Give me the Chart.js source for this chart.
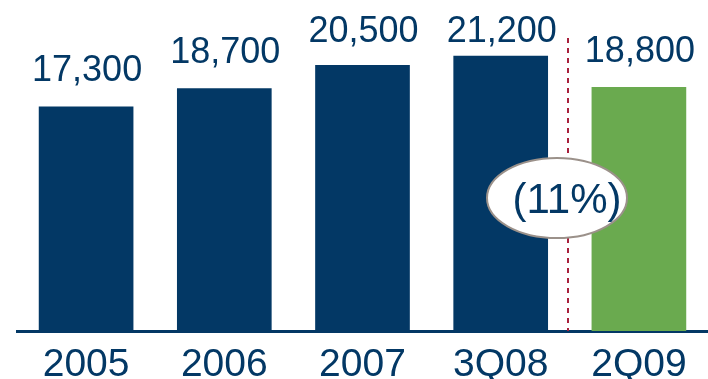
<!DOCTYPE html>
<html>
<head>
<meta charset="utf-8">
<script src="https://cdn.jsdelivr.net/npm/chart.js@4"></script>
<style>
  html, body { margin: 0; padding: 0; background: #ffffff; }
  #wrap { width: 708px; height: 379px; position: relative; }
</style>
</head>
<body>
<div id="wrap"><canvas id="headcount-chart"></canvas></div>
<script>
// Headcount by period
const periods = ['2005', '2006', '2007', '3Q08', '2Q09'];
const headcount = [17300, 18700, 20500, 21200, 18800];
const changeLabel = '(11%)';

const NAVY = '#033865';
const GREEN = '#6aaa4f';
const DIVIDER = '#a8203c';
const FONT = '"Liberation Sans", Arial, Helvetica, sans-serif';

const barColors = periods.map((p, i) => i === periods.length - 1 ? GREEN : NAVY);

// Value labels above each bar (kept below the top edge for the tall ones)
const valueLabels = {
    id: 'valueLabels',
    afterDatasetsDraw(chart) {
        const ctx = chart.ctx;
        const meta = chart.getDatasetMeta(0);
        ctx.save();
        ctx.font = `36px ${FONT}`;
        ctx.fillStyle = NAVY;
        ctx.textAlign = 'center';
        ctx.textBaseline = 'alphabetic';
        meta.data.forEach((bar, i) => {
            const y = Math.max(bar.y - 25, chart.chartArea.top + 42);
            ctx.fillText(headcount[i].toLocaleString('en-US'), bar.x + 1, y);
        });
        ctx.restore();
    }
};

// Dashed divider before the latest period, with the change callout
const changeCallout = {
    id: 'changeCallout',
    afterDatasetsDraw(chart) {
        const ctx = chart.ctx;
        const xs = chart.scales.x;
        const area = chart.chartArea;
        const n = periods.length;
        const divX = Math.round((xs.getPixelForValue(n - 2) + xs.getPixelForValue(n - 1)) / 2) - 2;

        ctx.save();
        ctx.strokeStyle = DIVIDER;
        ctx.lineWidth = 2;
        ctx.setLineDash([5, 5]);
        ctx.beginPath();
        ctx.moveTo(divX, area.top + 38);
        ctx.lineTo(divX, area.bottom);
        ctx.stroke();

        const cx = divX - 11;
        const cy = area.top + 198;
        ctx.setLineDash([]);
        ctx.beginPath();
        ctx.ellipse(cx, cy, 70, 40, 0, 0, Math.PI * 2);
        ctx.fillStyle = '#ffffff';
        ctx.fill();
        ctx.lineWidth = 2;
        ctx.strokeStyle = '#9b918a';
        ctx.stroke();

        ctx.font = `42px ${FONT}`;
        ctx.fillStyle = NAVY;
        ctx.textAlign = 'center';
        ctx.textBaseline = 'alphabetic';
        ctx.fillText(changeLabel, divX - 1, cy + 15);
        ctx.restore();
    }
};

new Chart(document.getElementById('headcount-chart'), {
    type: 'bar',
    data: {
        labels: periods,
        datasets: [{
            data: headcount,
            backgroundColor: barColors,
            borderWidth: 0,
            categoryPercentage: 1,
            barPercentage: 0.685
        }]
    },
    options: {
        responsive: true,
        maintainAspectRatio: false,
        animation: false,
        layout: { padding: { left: 17, right: 0, top: 0, bottom: 0 } },
        plugins: {
            legend: { display: false },
            tooltip: { enabled: false }
        },
        scales: {
            x: {
                grid: { display: false },
                border: { display: true, color: NAVY, width: 3 },
                ticks: {
                    color: NAVY,
                    padding: 3,
                    font: { family: FONT, size: 39 }
                },
                afterFit(scale) { scale.height = 48; }
            },
            y: {
                display: false,
                min: 0,
                max: 25500
            }
        }
    },
    plugins: [valueLabels, changeCallout]
});
</script>
</body>
</html>
